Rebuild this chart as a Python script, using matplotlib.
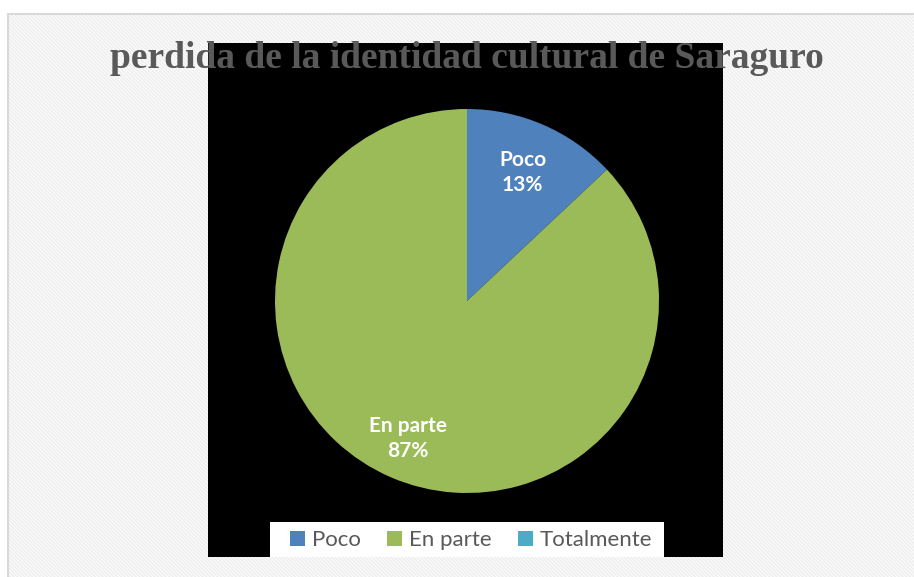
import matplotlib.pyplot as plt
import numpy as np
from matplotlib.patches import Rectangle, Patch

title = 'perdida de la identidad cultural de Saraguro'
categories = ['Poco', 'En parte', 'Totalmente']
values = [13, 87, 0]
colors = ['#4F81BD', '#9BBB59', '#4BACC6']

W, H = 914, 577
fig = plt.figure(figsize=(W / 100, H / 100), dpi=100)
fig.patch.set_facecolor('white')

def fx(x):
    return x / W

def fy(y):
    return 1 - y / H

# hatched chart area background
plt.rcParams['hatch.linewidth'] = 1.2
bg = Rectangle((fx(8), 0), 1 - fx(8), fy(14), transform=fig.transFigure,
               facecolor='white', edgecolor='#eeeeee', hatch='\\' * 9, linewidth=0, zorder=0)
fig.patches.append(bg)
border = Rectangle((fx(8), -0.01), 1.02 - fx(8), fy(14) + 0.01, transform=fig.transFigure,
                   facecolor='none', edgecolor='#d9d9d9', linewidth=1.5, zorder=0.5)
fig.patches.append(border)

# black plot area
ax = fig.add_axes([fx(208), fy(557), fx(723) - fx(208), (557 - 43) / H])
ax.set_zorder(1)

radius = 192
cx, cy = 467 - 208, 557 - 301
wedges, _ = ax.pie(values, colors=colors, startangle=90, counterclock=False,
                   radius=radius, center=(cx, cy), wedgeprops=dict(linewidth=0))
ax.set_frame_on(True)
ax.set_facecolor('black')
ax.patch.set_visible(True)
ax.set_xlim(0, 515)
ax.set_ylim(0, 514)
ax.set_aspect('auto')
for s in ax.spines.values():
    s.set_visible(False)
ax.set_xticks([])
ax.set_yticks([])

total = sum(values)
ang = 90.0
for cat, v, dist in zip(categories, values, [0.73, 0.78, 0.75]):
    sweep = v / total * 360
    if v > 0:
        mid = np.deg2rad(ang - sweep / 2)
        ax.text(cx + dist * radius * np.cos(mid), cy + dist * radius * np.sin(mid),
                f'{cat}\n{v}%', ha='center', va='center', color='white',
                fontsize=15, fontweight='bold', family='Lato', linespacing=1.3)
    ang -= sweep

# title
fig.text(fx(467), fy(58), title, ha='center', va='center', fontsize=27,
         fontweight='bold', family='Liberation Serif', color='#595959', zorder=5)

# legend
lbox = Rectangle((fx(270), fy(557)), fx(664) - fx(270), (557 - 522) / H,
                 transform=fig.transFigure, facecolor='white', edgecolor='none', zorder=3)
fig.patches.append(lbox)
handles = [Patch(facecolor=c, edgecolor='none') for c in colors]
leg = fig.legend(handles, categories, loc='center', bbox_to_anchor=(fx(471), fy(540)),
                 ncol=3, frameon=False, handlelength=0.66, handleheight=0.66,
                 handletextpad=0.3, columnspacing=1.2,
                 prop={'family': 'Lato', 'size': 16})
for t in leg.get_texts():
    t.set_color('#595959')
leg.set_zorder(6)

fig.savefig('out.png', dpi=100)
